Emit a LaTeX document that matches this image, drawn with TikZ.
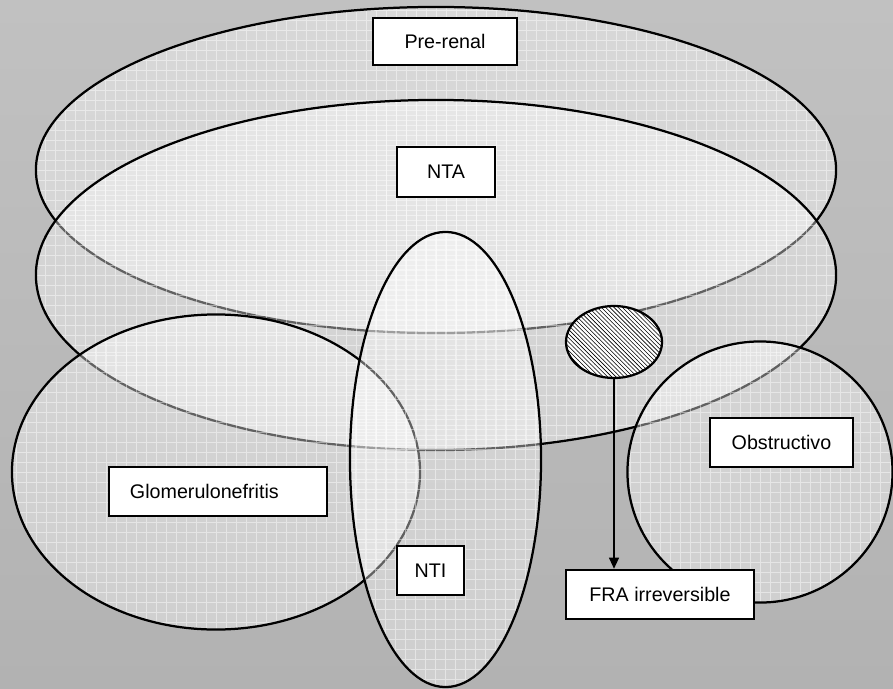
\documentclass[tikz,border=0pt]{standalone}
\usepackage{fontspec}
\setmainfont{Liberation Sans}
\usetikzlibrary{shapes.geometric,patterns,arrows.meta}
\definecolor{bgtop}{RGB}{193,193,193}
\definecolor{bgbottom}{RGB}{178,178,178}
\begin{document}
\begin{tikzpicture}[
    x=0.025cm, y=-0.025cm,
    set/.style={ellipse, draw, line width=1.6pt, inner sep=0pt, fill=white, fill opacity=0.38, draw opacity=1,
        path picture={\draw[white, opacity=0.45, line width=0.6pt, step=0.25cm]
            (path picture bounding box.south west) grid (path picture bounding box.north east);}},
    hatched/.style={ellipse, draw, line width=1.6pt, inner sep=0pt, fill=white, postaction={pattern=north west lines}},
    label/.style={rectangle, draw, line width=1.7pt, fill=white, inner sep=0pt, minimum height=1.225cm, font=\fontsize{14}{17}\selectfont},
    arrow/.style={-{Triangle[width=7pt,length=8pt]}, line width=1.4pt}
]

% background
\fill[top color=bgtop, bottom color=bgbottom] (0,0) rectangle (893,689);
\useasboundingbox (0,0) rectangle (893,689);

% Sets
\node[set, minimum width=20cm, minimum height=8.15cm] (prerenalset) at (436,170) {};
\node[set, minimum width=20cm, minimum height=8.75cm] (ntaset) at (436,275) {};
\node[set, minimum width=10.2cm, minimum height=7.875cm] (glomset) at (216,472) {};
\node[set, minimum width=4.775cm, minimum height=11.375cm] (ntiset) at (445.5,459.5) {};
\node[set, minimum width=6.625cm, minimum height=6.525cm] (obstset) at (760,472) {};
\node[hatched, minimum width=2.4cm, minimum height=1.8cm] (irrev) at (614,342) {};

% Labels
\node[label, minimum width=3.6cm, minimum height=1.175cm] (prerenal) at (445,41.5) {Pre-renal};
\node[label, minimum width=2.45cm, minimum height=1.25cm] (nta) at (446,172) {NTA};
\node[label, text width=4.4cm, inner xsep=0.525cm, align=left] (glom) at (218,491.5) {Glomerulonefritis};
\node[label, minimum width=3.575cm] (obst) at (781.5,442.5) {Obstructivo};
\node[label, minimum width=1.675cm] (nti) at (430.5,570.5) {NTI};
\node[label, minimum width=4.7cm] (fra) at (660,594.5) {FRA irreversible};

% Flow
\draw[arrow] (irrev.south) -- (irrev.south |- fra.north);

\end{tikzpicture}
\end{document}
